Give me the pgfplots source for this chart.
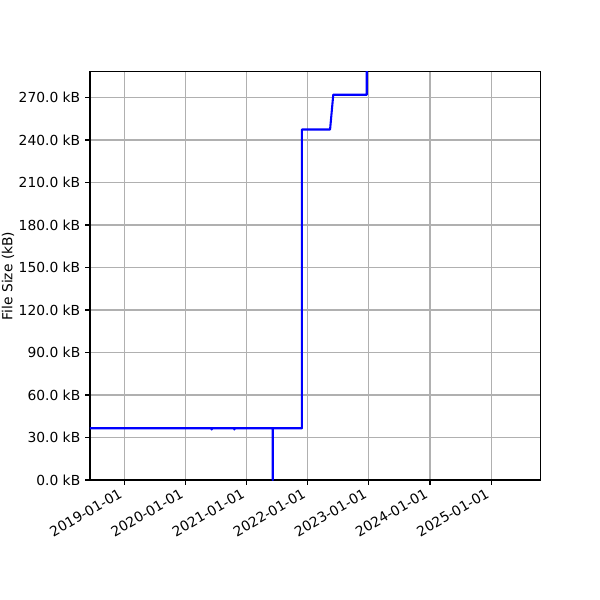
\documentclass[border=0pt]{standalone}
\usepackage{fontspec}
\setmainfont{DejaVu Sans}
\usepackage{pgfplots}
\pgfplotsset{compat=1.18}
\begin{document}
\begin{tikzpicture}[x=1bp,y=1bp]
\begin{axis}[
  at={(0,0)}, anchor=south west,
  scale only axis,
  width=324.5bp, height=293.8bp,
  xmin=-205, xmax=2487,
  ymin=0, ymax=288,
  axis line style={black, line width=0.8pt},
  grid=major,
  major grid style={color=black!31, line width=0.8pt},
  tick align=outside,
  major tick length=3.5pt,
  tick style={black, line width=0.8pt},
  xtick pos=bottom, ytick pos=left,
  xtick={0,365,731,1096,1461,1826,2192},
  xticklabels={2019-01-01,2020-01-01,2021-01-01,2022-01-01,2023-01-01,2024-01-01,2025-01-01},
  xticklabel style={xshift=-4bp, rotate=30, anchor=north east, font=\fontsize{10}{12}\selectfont, inner sep=1.5pt},
  ytick={0,30,60,90,120,150,180,210,240,270},
  yticklabels={0.0 kB,30.0 kB,60.0 kB,90.0 kB,120.0 kB,150.0 kB,180.0 kB,210.0 kB,240.0 kB,270.0 kB},
  yticklabel style={font=\fontsize{10}{12}\selectfont},
  ylabel={File Size (kB)},
  every axis y label/.style={at={(rel axis cs:0,0.5)}, xshift=-59bp, rotate=90, anchor=center, font=\fontsize{10}{12}\selectfont},
  clip=true,
]
\addplot[blue, line width=1.5pt, line join=round, line cap=round] coordinates {
(-300,36.5) (521,36.5) (522,35.6) (523,36.5) (656,36.5) (657,35.6) (658,36.5)
(886,36.5) (886,0) (886.5,0) (886.5,36.5)
(1061,36.5) (1061,247.4) (1229,247.4) (1248,271.9) (1448,271.9) (1448,320)
};
\end{axis}
\pgfresetboundingbox
\path (-64.8bp,-86.4bp) rectangle (367.2bp,345.6bp);
\end{tikzpicture}
\end{document}
